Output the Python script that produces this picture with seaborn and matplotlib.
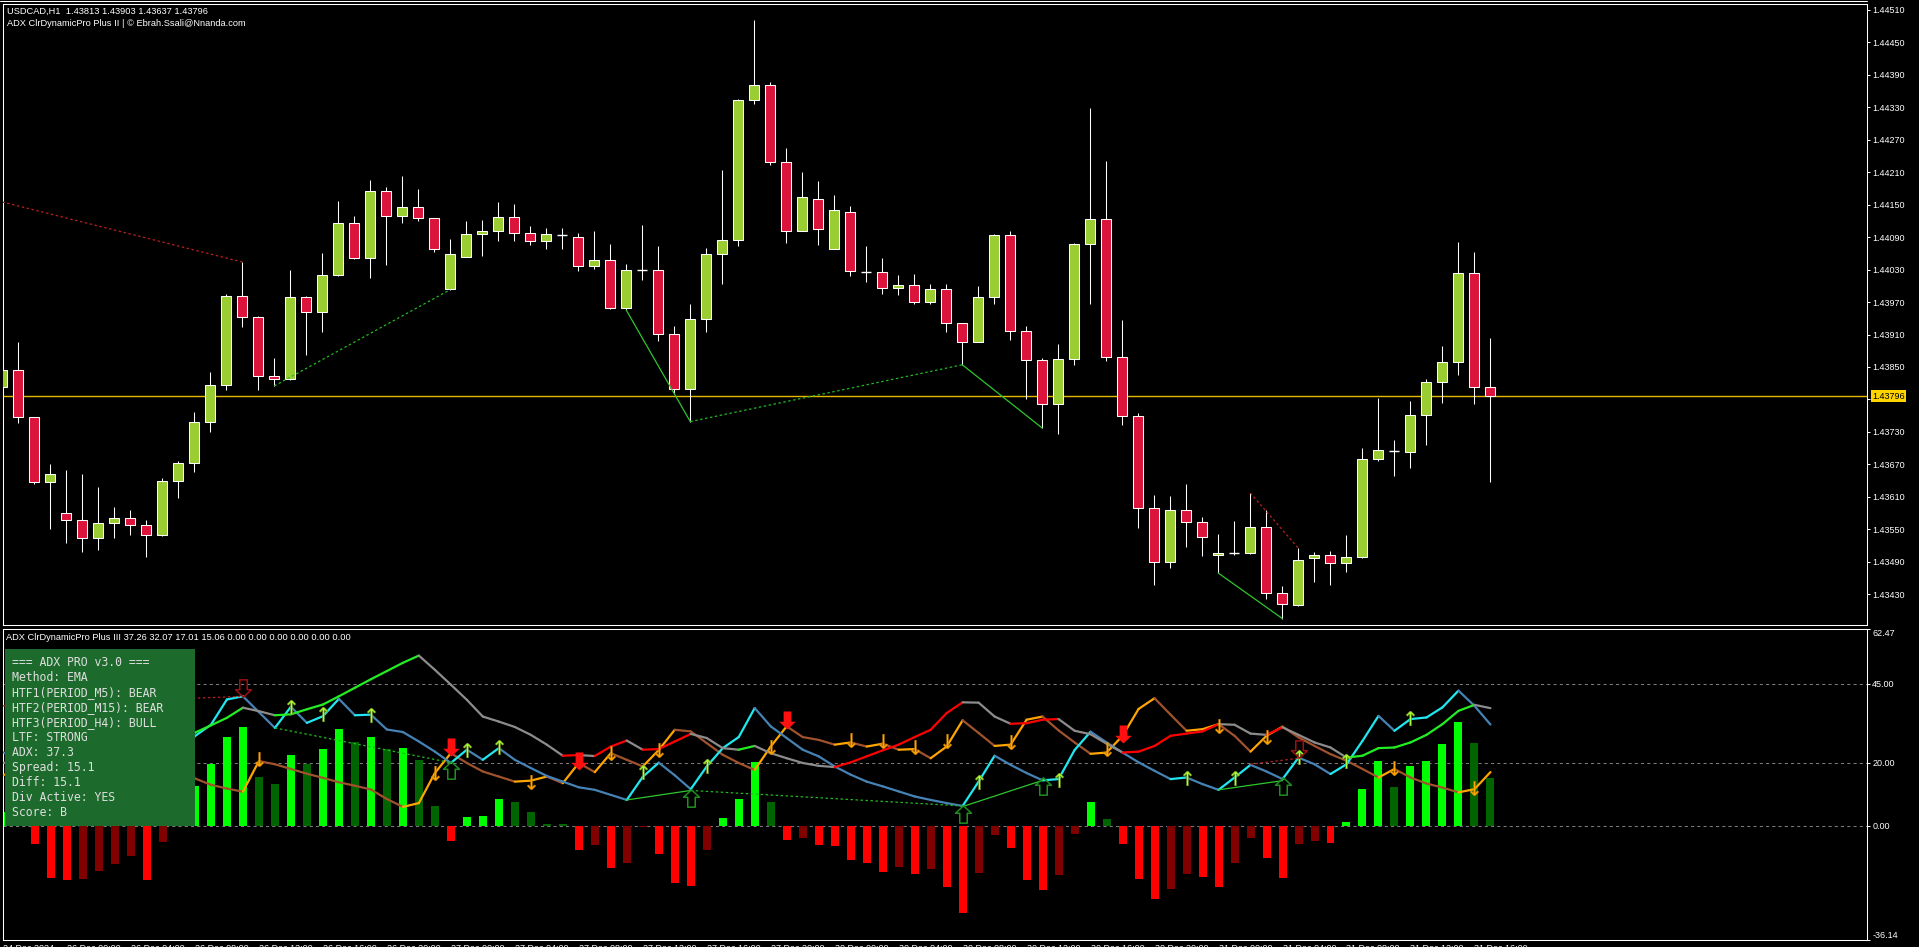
import numpy as np
import pandas as pd
import seaborn as sns
import matplotlib.pyplot as plt
from matplotlib.collections import LineCollection
from matplotlib.patches import Rectangle
from matplotlib.path import Path
from matplotlib.transforms import blended_transform_factory

W, H = 1919, 947

# USDCAD H1 candles, 24 Dec 2024 .. 31 Dec 2024 17:00
opens = [1.43813, 1.43845, 1.43757, 1.43637, 1.43580, 1.43568, 1.43533, 1.43561, 1.43570, 1.43557,
         1.43539, 1.43640, 1.43673, 1.43749, 1.43816, 1.43982, 1.43943, 1.43833, 1.43827, 1.43980,
         1.43951, 1.44020, 1.44116, 1.44052, 1.44175, 1.44130, 1.44145, 1.44125, 1.43995, 1.44054,
         1.44095, 1.44102, 1.44128, 1.44097, 1.44082, 1.44094, 1.44091, 1.44036, 1.44047, 1.43959,
         1.44029, 1.44029, 1.43911, 1.43809, 1.43938, 1.44058, 1.44084, 1.44343, 1.44372, 1.44228,
         1.44102, 1.44161, 1.44069, 1.44136, 1.44026, 1.44025, 1.43996, 1.44001, 1.43970, 1.43995,
         1.43931, 1.43897, 1.43979, 1.44094, 1.43916, 1.43862, 1.43781, 1.43864, 1.44078, 1.44123,
         1.43868, 1.43759, 1.43590, 1.43490, 1.43586, 1.43564, 1.43502, 1.43506, 1.43506, 1.43555,
         1.43433, 1.43410, 1.43497, 1.43502, 1.43487, 1.43498, 1.43679, 1.43695, 1.43693, 1.43762,
         1.43823, 1.43860, 1.44023, 1.43813]
highs = [1.43850, 1.43897, 1.43758, 1.43670, 1.43659, 1.43653, 1.43629, 1.43592, 1.43585, 1.43567,
         1.43644, 1.43677, 1.43766, 1.43841, 1.43984, 1.44044, 1.43944, 1.43867, 1.44029, 1.43981,
         1.44061, 1.44156, 1.44129, 1.44195, 1.44183, 1.44203, 1.44179, 1.44126, 1.44086, 1.44119,
         1.44122, 1.44155, 1.44151, 1.44110, 1.44107, 1.44107, 1.44097, 1.44101, 1.44077, 1.44040,
         1.44112, 1.44074, 1.43925, 1.43966, 1.44070, 1.44214, 1.44345, 1.44492, 1.44376, 1.44254,
         1.44210, 1.44193, 1.44167, 1.44147, 1.44073, 1.44051, 1.44020, 1.44022, 1.44003, 1.44004,
         1.43932, 1.43999, 1.44096, 1.44102, 1.43925, 1.43867, 1.43892, 1.44079, 1.44329, 1.44230,
         1.43937, 1.43764, 1.43614, 1.43611, 1.43633, 1.43572, 1.43541, 1.43565, 1.43617, 1.43585,
         1.43445, 1.43515, 1.43508, 1.43510, 1.43539, 1.43701, 1.43793, 1.43715, 1.43787, 1.43828,
         1.43889, 1.44081, 1.44063, 1.43903]
lows = [1.43810, 1.43746, 1.43633, 1.43550, 1.43524, 1.43508, 1.43511, 1.43533, 1.43539, 1.43498,
        1.43538, 1.43607, 1.43656, 1.43729, 1.43808, 1.43924, 1.43808, 1.43815, 1.43825, 1.43872,
        1.43915, 1.44019, 1.44049, 1.44015, 1.44039, 1.44117, 1.44119, 1.44063, 1.43993, 1.44053,
        1.44056, 1.44082, 1.44082, 1.44076, 1.44069, 1.44069, 1.44027, 1.44031, 1.43958, 1.43955,
        1.44010, 1.43898, 1.43802, 1.43749, 1.43914, 1.44003, 1.44074, 1.44337, 1.44223, 1.44080,
        1.44101, 1.44076, 1.44068, 1.44019, 1.44008, 1.43985, 1.43983, 1.43967, 1.43967, 1.43915,
        1.43854, 1.43896, 1.43967, 1.43900, 1.43791, 1.43737, 1.43726, 1.43854, 1.43967, 1.43861,
        1.43743, 1.43552, 1.43447, 1.43479, 1.43517, 1.43500, 1.43469, 1.43502, 1.43504, 1.43421,
        1.43385, 1.43409, 1.43452, 1.43447, 1.43471, 1.43497, 1.43676, 1.43649, 1.43664, 1.43705,
        1.43784, 1.43836, 1.43782, 1.43637]
closes = [1.43845, 1.43757, 1.43637, 1.43653, 1.43567, 1.43533, 1.43561, 1.43570, 1.43557, 1.43539,
          1.43640, 1.43673, 1.43749, 1.43816, 1.43982, 1.43943, 1.43833, 1.43827, 1.43980, 1.43951,
          1.44020, 1.44116, 1.44052, 1.44175, 1.44130, 1.44145, 1.44125, 1.44069, 1.44058, 1.44095,
          1.44102, 1.44128, 1.44097, 1.44082, 1.44095, 1.44094, 1.44036, 1.44047, 1.43959, 1.44029,
          1.44029, 1.43911, 1.43809, 1.43938, 1.44058, 1.44084, 1.44343, 1.44372, 1.44228, 1.44102,
          1.44164, 1.44105, 1.44141, 1.44027, 1.44026, 1.43996, 1.44001, 1.43970, 1.43995, 1.43931,
          1.43897, 1.43979, 1.44094, 1.43916, 1.43862, 1.43781, 1.43864, 1.44078, 1.44123, 1.43868,
          1.43759, 1.43590, 1.43490, 1.43586, 1.43564, 1.43535, 1.43507, 1.43506, 1.43555, 1.43433,
          1.43411, 1.43494, 1.43502, 1.43487, 1.43498, 1.43679, 1.43696, 1.43695, 1.43762, 1.43823,
          1.43860, 1.44023, 1.43813, 1.43796]

# ADX ClrDynamicPro Plus III buffers
adx = [20.0, 19.6, 19.8, 20.6, 21.5, 22.4, 23.2, 23.9, 24.5, 25.5,
       26.0, 27.5, 29.5, 31.8, 34.2, 37.4, 36.3, 35.0, 35.3, 36.9,
       38.4, 41.0, 43.7, 46.4, 49.0, 51.6, 53.9, 49.4, 44.7, 39.9,
       34.6, 33.0, 31.3, 28.8, 25.7, 22.2, 22.4, 22.1, 25.1, 27.0,
       24.1, 24.3, 26.7, 29.1, 27.8, 24.6, 24.1, 25.3, 23.0, 21.4,
       19.9, 19.0, 18.6, 20.1, 22.0, 23.9, 25.7, 28.1, 30.4, 35.7,
       39.1, 39.0, 34.6, 32.3, 32.5, 33.6, 33.8, 30.1, 29.0, 26.0,
       23.2, 23.5, 25.3, 28.5, 29.2, 29.9, 32.2, 32.0, 29.2, 28.8,
       31.2, 28.8, 26.4, 24.8, 21.6, 22.2, 24.6, 24.8, 26.4, 28.8,
       32.2, 36.4, 38.3, 37.26]
plus_di = [23.3, 21.0, 18.0, 15.5, 14.0, 12.5, 13.0, 12.0, 13.0, 11.0,
           17.0, 22.0, 28.4, 32.0, 40.0, 41.0, 36.0, 31.0, 37.7, 32.6,
           34.7, 40.2, 35.0, 35.2, 30.5, 29.7, 26.7, 23.5, 19.9, 24.1,
           20.9, 24.6, 20.9, 18.3, 15.8, 14.0, 12.2, 11.4, 9.8, 8.2,
           15.5, 20.0, 16.0, 11.6, 18.8, 24.6, 28.1, 37.3, 31.5, 27.8,
           24.1, 22.0, 18.8, 16.2, 14.0, 12.5, 10.9, 9.3, 8.2, 7.2,
           6.3, 14.0, 22.2, 19.3, 16.7, 14.4, 14.8, 24.0, 29.8, 26.4,
           23.2, 20.1, 17.4, 14.8, 15.3, 13.2, 11.4, 15.3, 19.3, 17.2,
           14.8, 21.6, 19.5, 16.4, 19.5, 26.9, 34.8, 30.1, 33.8, 34.3,
           37.5, 42.8, 38.0, 32.07]
minus_di = [16.0, 18.0, 22.0, 26.0, 28.0, 29.0, 27.0, 25.0, 23.0, 24.0,
            21.0, 17.0, 15.0, 13.0, 11.8, 10.8, 20.5, 19.5, 18.0, 16.5,
            15.2, 13.8, 12.7, 11.5, 8.5, 6.0, 7.2, 16.7, 23.0, 19.9,
            17.2, 15.6, 14.0, 14.3, 15.6, 13.5, 19.9, 17.0, 23.0, 20.9,
            18.8, 24.0, 30.4, 29.9, 26.2, 22.5, 19.9, 17.7, 25.1, 31.5,
            28.1, 27.2, 25.7, 26.4, 25.1, 26.0, 24.1, 24.3, 21.4, 25.1,
            33.4, 29.4, 25.3, 25.7, 33.6, 34.6, 30.2, 26.4, 22.8, 23.2,
            28.5, 37.0, 40.4, 35.2, 30.1, 30.6, 32.2, 28.5, 23.5, 28.5,
            31.4, 28.0, 25.3, 22.7, 20.6, 18.0, 15.3, 18.0, 15.3, 13.4,
            12.1, 10.6, 11.6, 17.01]
hist = [4.3, 2.0, -5.8, -16.5, -17.0, -16.8, -14.3, -12.0, -9.7, -17.0,
        -5.0, 6.0, 12.6, 19.7, 28.0, 31.3, 15.6, 13.4, 22.4, 19.5,
        24.3, 30.5, 26.4, 28.0, 24.2, 24.6, 20.9, 6.3, -4.8, 2.9,
        3.0, 8.6, 7.6, 4.4, 0.6, 0.5, -7.6, -6.0, -13.3, -11.7,
        -0.5, -8.8, -18.1, -18.9, -7.6, 2.5, 8.6, 20.3, 7.6, -4.4,
        -3.8, -6.0, -6.3, -10.8, -11.7, -14.6, -13.0, -15.2, -13.6, -19.3,
        -27.6, -14.9, -2.9, -7.0, -17.1, -20.3, -15.5, -2.5, 7.4, 2.3,
        -5.9, -16.9, -23.2, -20.1, -15.1, -16.3, -19.4, -11.8, -4.0, -10.3,
        -16.6, -5.6, -4.9, -5.5, 1.3, 11.7, 20.6, 12.4, 18.8, 20.6,
        25.8, 32.9, 26.1, 15.06]

# signal arrows (bar index, indicator value)
orange_dn_bars = [16, 27, 33, 38, 41, 48, 53, 55, 57, 59, 63, 69, 76, 79, 87, 92]
orange_dn_vals = [21.0, 16.7, 14.0, 23.0, 24.1, 25.1, 27.2, 27.0, 24.9, 26.7, 26.4, 24.3, 31.7, 28.0, 18.3, 12.1]
lime_up_bars = [18, 20, 23, 29, 31, 40, 44, 61, 66, 74, 77, 81, 84, 88]
lime_up_vals = [37.7, 35.3, 35.0, 24.1, 24.9, 16.9, 18.8, 14.0, 14.6, 15.3, 15.1, 21.9, 20.6, 34.1]
red_dn_bars = [28, 36, 49, 70]
red_dn_vals = [25.1, 20.4, 33.6, 29.2]
hollow_up_bars = [28, 43, 60, 65, 80]
hollow_up_vals = [17.7, 8.8, 3.8, 12.5, 12.7]
hollow_dn_bars = [15, 81]
hollow_dn_vals = [43.7, 24.3]

# divergence links drawn on both panes
div_from = [0, 17, 39, 43, 60, 76, 78]
div_to = [15, 28, 43, 60, 65, 80, 81]
div_price_a = [1.44155, 1.43815, 1.43955, 1.43749, 1.43854, 1.43469, 1.43617]
div_price_b = [1.44044, 1.43993, 1.43749, 1.43854, 1.43737, 1.43385, 1.43515]
div_ind_a = [38.0, 31.0, 8.2, 11.2, 6.1, 11.4, 19.5]
div_ind_b = [41.0, 20.0, 11.2, 6.3, 14.4, 14.3, 21.4]
div_kind = ["bear_dot", "bull_dot", "bull", "bull_dot", "bull", "bull", "bear_dot"]

price_ticks = [1.44510, 1.44450, 1.44390, 1.44330, 1.44270, 1.44210, 1.44150, 1.44090, 1.44030, 1.43970,
               1.43910, 1.43850, 1.43790, 1.43730, 1.43670, 1.43610, 1.43550, 1.43490, 1.43430]
adx_ticks = [62.47, 45.00, 20.00, 0.00, -36.14]
adx_levels = [45, 20, 0]
time_labels = ["24 Dec 2024", "26 Dec 00:00", "26 Dec 04:00", "26 Dec 08:00", "26 Dec 12:00", "26 Dec 16:00",
               "26 Dec 20:00", "27 Dec 00:00", "27 Dec 04:00", "27 Dec 08:00", "27 Dec 12:00", "27 Dec 16:00",
               "27 Dec 20:00", "30 Dec 00:00", "30 Dec 04:00", "30 Dec 08:00", "30 Dec 12:00", "30 Dec 16:00",
               "30 Dec 20:00", "31 Dec 00:00", "31 Dec 04:00", "31 Dec 08:00", "31 Dec 12:00", "31 Dec 16:00"]
info_lines = ["=== ADX PRO v3.0 ===", "Method: EMA", "HTF1(PERIOD_M5): BEAR", "HTF2(PERIOD_M15): BEAR",
              "HTF3(PERIOD_H4): BULL", "LTF: STRONG", "ADX: 37.3", "Spread: 15.1", "Diff: 15.1",
              "Div Active: YES", "Score: B"]

sns.set_theme(style="dark", rc={
    "figure.facecolor": "black",
    "axes.facecolor": "black",
    "axes.edgecolor": "white",
    "axes.linewidth": 0.75,
    "axes.grid": False,
    "text.color": "white",
    "xtick.color": "white",
    "ytick.color": "white",
})
plt.rcParams["font.family"] = ["Liberation Sans", "DejaVu Sans"]

fig = plt.figure(figsize=(W / 100, H / 100), dpi=100)


def pane(top, bottom):
    return fig.add_axes([3 / W, 1 - bottom / H, 1864 / W, (bottom - top) / H])


ax = pane(4, 625)
ax2 = pane(628.5, 940)
xlim = ((3 - 2.3) / 16, (1867 - 2.3) / 16)

n = len(opens)
x = np.arange(n)
o, hi, lo, c = (np.array(v) for v in (opens, highs, lows, closes))

# --- price pane ---
ax.vlines(x, lo, hi, color="white", lw=0.75, zorder=2)
up, dn, flat = c > o, c < o, c == o
body_lo = np.minimum(o, c)
body_h = np.abs(c - o)
ax.bar(x[up], body_h[up], bottom=body_lo[up], width=0.64, color="#9acd32",
       edgecolor="white", linewidth=0.75, zorder=3)
ax.bar(x[dn], body_h[dn], bottom=body_lo[dn], width=0.64, color="#dc143c",
       edgecolor="white", linewidth=0.75, zorder=3)
ax.hlines(o[flat], x[flat] - 0.32, x[flat] + 0.32, color="white", lw=1.0, zorder=3)
ax.axhline(c[-1], color="#e6b800", lw=1.0, zorder=1)

div_style = {"bear_dot": dict(color="#b82020", ls=(0, (2, 2)), lw=0.9),
             "bull_dot": dict(color="#22b822", ls=(0, (2, 2)), lw=0.9),
             "bull": dict(color="#2ec62e", ls="-", lw=0.9)}
for a, b, pa, pb, ia, ib, k in zip(div_from, div_to, div_price_a, div_price_b,
                                   div_ind_a, div_ind_b, div_kind):
    ax.plot([a, b], [pa, pb], zorder=4, **div_style[k])
    ax2.plot([a, b], [ia, ib], zorder=3.5, **div_style[k])

ax.set_xlim(xlim)
ax.set_ylim(1.43373, 1.44521)
ax.set_xticks([])
ax.yaxis.tick_right()
ax.set_yticks(price_ticks)
# the bid label covers the tick label sitting under it
ax.set_yticklabels(["" if abs(v - c[-1]) < 0.0002 else f"{v:.5f}" for v in price_ticks])
ax.tick_params(axis="y", direction="out", length=2.5, width=0.75, pad=1.2,
               labelsize=6.5, colors="white")
bt = blended_transform_factory(ax.transAxes, ax.transData)
ax.text(1 + 5 / 1864, c[-1], f"{c[-1]:.5f}", transform=bt, fontsize=6.5, color="black",
        va="center", ha="left", zorder=10,
        bbox=dict(boxstyle="square,pad=0.15", fc="#ffd500", ec="none"))

# --- indicator pane ---
for lv in adx_levels:
    ax2.axhline(lv, color="#7a7a7a", lw=0.75, ls=(0, (3, 3)), zorder=1)

h = np.array(hist)
prev = np.r_[0.0, h[:-1]]
grow = (np.sign(h) != np.sign(prev)) | (np.abs(h) > np.abs(prev))
state = np.where(h >= 0, np.where(grow, "bull+", "bull-"), np.where(grow, "bear+", "bear-"))
hist_df = pd.DataFrame({"bar": x, "hist": h, "state": state})
sns.barplot(data=hist_df, x="bar", y="hist", hue="state",
            palette={"bull+": "#00ff00", "bull-": "#006400", "bear+": "#ff0000", "bear-": "#800000"},
            native_scale=True, width=0.5, dodge=False, saturation=1, errorbar=None,
            legend=False, linewidth=0, zorder=2, ax=ax2)


def segs(v):
    return [[(i, v[i]), (i + 1, v[i + 1])] for i in range(len(v) - 1)]


a_, p_, m_ = np.array(adx), np.array(plus_di), np.array(minus_di)
m_cols = np.where(np.diff(m_) > 0, "#ffa500", "#a0522d")
p_cols = np.where(np.diff(p_) > 0, "#20e8f0", "#4682b4")
a_cols = np.where(np.diff(a_) <= 0, "#8c8c8c", np.where(p_[1:] > m_[1:], "#22ee22", "#ff0000"))
for v, cols in ((m_, m_cols), (p_, p_cols), (a_, a_cols)):
    ax2.add_collection(LineCollection(segs(v), colors=list(cols), linewidths=1.6,
                                      capstyle="round", zorder=3))

arrow_dn = Path([(-0.43, 1), (0.43, 1), (0.43, -0.14), (0.92, -0.14), (0, -1),
                 (-0.92, -0.14), (-0.43, -0.14), (-0.43, 1)], closed=True)
arrow_up = Path([(-0.43, -1), (0.43, -1), (0.43, 0.14), (0.92, 0.14), (0, 1),
                 (-0.92, 0.14), (-0.43, 0.14), (-0.43, -1)], closed=True)
ax2.plot(orange_dn_bars, orange_dn_vals, ls="none", marker=r"$\downarrow$", ms=10.5,
         color="#ffa500", mec="#c07800", mew=0.3, zorder=5)
ax2.plot(lime_up_bars, lime_up_vals, ls="none", marker=r"$\uparrow$", ms=10.5,
         color="#adff2f", mec="#6b8e23", mew=0.4, zorder=5)
ax2.plot(red_dn_bars, red_dn_vals, ls="none", marker=arrow_dn, ms=13,
         color="#ff1010", mew=0, zorder=5)
ax2.plot(hollow_up_bars, hollow_up_vals, ls="none", marker=arrow_up, ms=12.5,
         mfc="none", mec="#1f8f1f", mew=1.1, zorder=5)
ax2.plot(hollow_dn_bars, hollow_dn_vals, ls="none", marker=arrow_dn, ms=12.5,
         mfc="none", mec="#9b1010", mew=1.1, zorder=5)

# info panel
ax2.add_patch(Rectangle((5 / W, 1 - 826 / H), 190 / W, 177 / H, transform=fig.transFigure,
                        facecolor="#1c6b2c", edgecolor="none", zorder=6))
for k, line in enumerate(info_lines):
    ax2.text(11.7 / W, 1 - (662.3 + 15 * k) / H, line, transform=fig.transFigure,
             family="DejaVu Sans Mono", fontsize=8.3, color="#dedede",
             va="center", ha="left", zorder=7)

ax2.set_xlim(xlim)
ax2.set_ylim(-36.14, 62.47)
ax2.set_xlabel("")
ax2.set_ylabel("")
ax2.yaxis.tick_right()
ax2.set_yticks(adx_ticks)
ax2.set_yticklabels([f"{v:.2f}" for v in adx_ticks])
ylabs = ax2.get_yticklabels()
ylabs[0].set_va("top")
ylabs[-1].set_va("bottom")
ax2.tick_params(axis="y", direction="out", length=2.5, width=0.75, pad=1.2,
                labelsize=6.5, colors="white")
ax2.set_xticks(list(range(0, n, 4)))
ax2.set_xticklabels(time_labels, ha="left")
ax2.tick_params(axis="x", direction="out", length=2.2, width=0.75, pad=0.7,
                labelsize=6.5, colors="white")

for a in (ax, ax2):
    for s in a.spines.values():
        s.set_color("white")
        s.set_linewidth(0.75)

# window texts
fig.text(7 / W, 1 - 11.7 / H,
         f"USDCAD,H1  {opens[-1]:.5f} {highs[-1]:.5f} {lows[-1]:.5f} {closes[-1]:.5f}",
         fontsize=6.7, color="white", va="center")
fig.text(7 / W, 1 - 23.3 / H, "ADX ClrDynamicPro Plus II | © Ebrah.Ssali@Nnanda.com",
         fontsize=6.7, color="white", va="center")
fig.text(6 / W, 1 - 637.3 / H,
         f"ADX ClrDynamicPro Plus III {adx[-1]:.2f} {plus_di[-1]:.2f} {minus_di[-1]:.2f} "
         f"{hist[-1]:.2f} 0.00 0.00 0.00 0.00 0.00 0.00",
         fontsize=6.7, color="white", va="center")
fig.add_artist(plt.Line2D([0, 1867 / W], [1 - 1.5 / H, 1 - 1.5 / H], color="white", lw=0.75))

fig.savefig("out.png", dpi=100, facecolor="black")
